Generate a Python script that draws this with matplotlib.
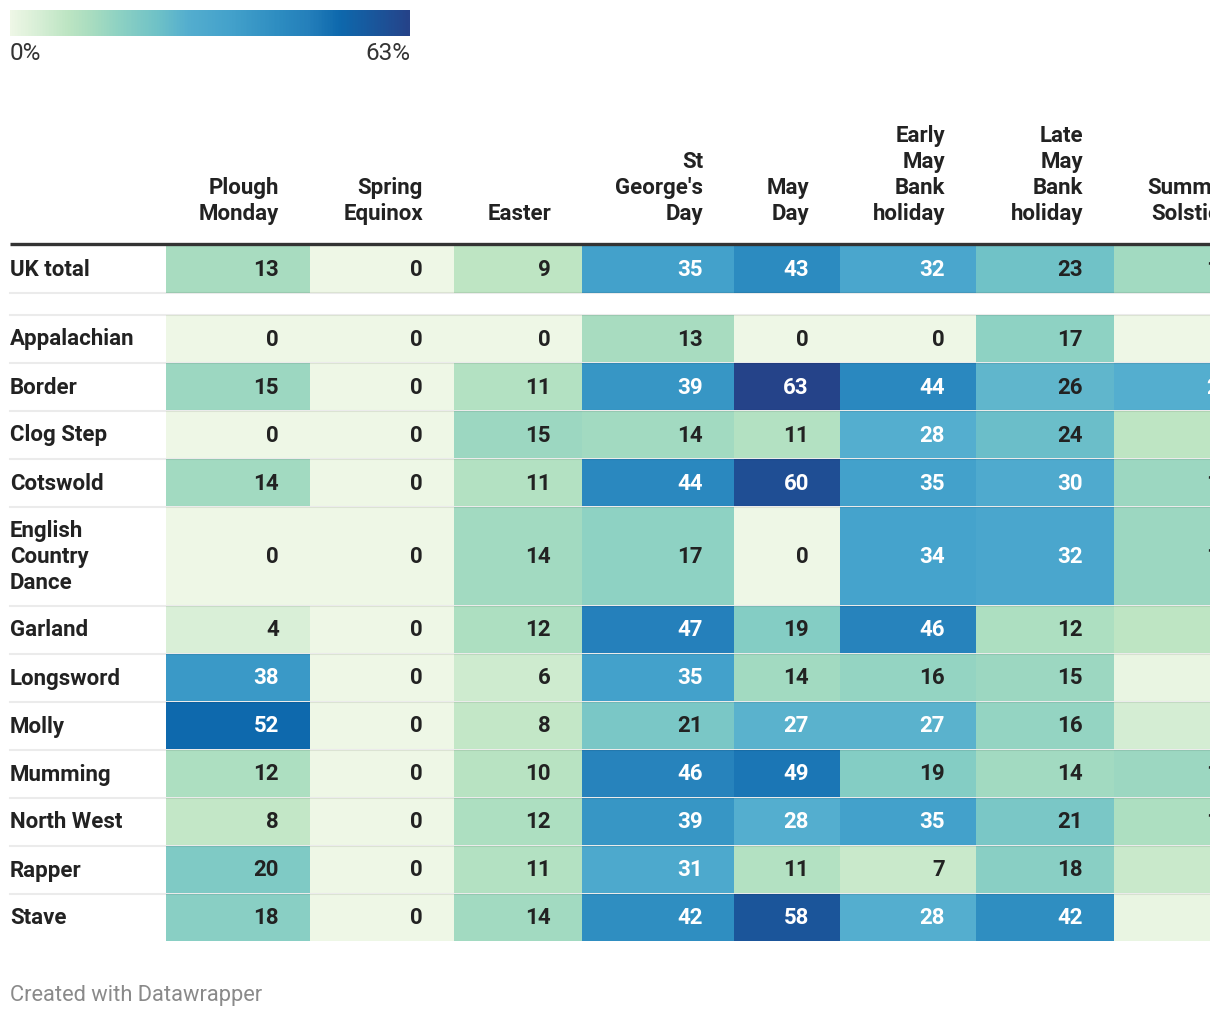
import matplotlib.pyplot as plt
import numpy as np
from matplotlib.colors import LinearSegmentedColormap
from matplotlib.patches import Rectangle

plt.rcParams['font.family'] = ['Roboto', 'DejaVu Sans']

# Data
columns = ["Plough\nMonday", "Spring\nEquinox", "Easter", "St\nGeorge's\nDay", "May\nDay",
           "Early\nMay\nBank\nholiday", "Late\nMay\nBank\nholiday", "Summer\nSolstice"]
total_label = "UK total"
total_values = [13, 0, 9, 35, 43, 32, 23, 14]
rows = ["Appalachian", "Border", "Clog Step", "Cotswold", "English\nCountry\nDance", "Garland",
        "Longsword", "Molly", "Mumming", "North West", "Rapper", "Stave"]
values = [
    [0, 0, 0, 13, 0, 0, 17, 0],
    [15, 0, 11, 39, 63, 44, 26, 28],
    [0, 0, 15, 14, 11, 28, 24, 9],
    [14, 0, 11, 44, 60, 35, 30, 15],
    [0, 0, 14, 17, 0, 34, 32, 15],
    [4, 0, 12, 47, 19, 46, 12, 9],
    [38, 0, 6, 35, 14, 16, 15, 1],
    [52, 0, 8, 21, 27, 27, 16, 5],
    [12, 0, 10, 46, 49, 19, 14, 15],
    [8, 0, 12, 39, 28, 35, 21, 12],
    [20, 0, 11, 31, 11, 7, 18, 7],
    [18, 0, 14, 42, 58, 28, 42, 1],
]
vmax = 63

# colour scale (value, colour)
nodes = [(0, "#eef7e6"), (4, "#d9efd7"), (9, "#bde5c3"), (13, "#a7dcc0"), (17, "#8ed2c3"),
         (23, "#70c2c7"), (28, "#54aecf"), (35, "#43a1cb"), (43, "#2c8bc0"), (47, "#2580bb"),
         (52, "#0e69ad"), (60, "#1f4e94"), (63, "#254389")]
cmap = LinearSegmentedColormap.from_list("dw", [(v / vmax, c) for v, c in nodes])

# layout in pixels
col_edges = [166, 310, 454, 582, 734, 840, 976, 1114, 1263]
pad = 31
dark = "#222222"
fs = 16

fig = plt.figure(figsize=(12.2, 10.18), dpi=100)
ax = fig.add_axes([0, 0, 1, 1])
ax.set_xlim(0, 1220)
ax.set_ylim(1018, 0)
ax.axis("off")

# legend
grad = np.linspace(0, 1, 400).reshape(1, -1)
ax.imshow(grad, cmap=cmap, extent=[10, 410, 36, 10], aspect="auto")
ax.text(10, 53, "0%", fontsize=17.5, color="#333333", va="center", ha="left")
ax.text(410, 53, "63%", fontsize=17.5, color="#333333", va="center", ha="right")

# headers
for j, col in enumerate(columns):
    lines = col.split("\n")
    xr = col_edges[j + 1] - pad
    for i, ln in enumerate(lines):
        y = 214 - 26 * (len(lines) - 1 - i)
        ax.text(xr, y, ln, fontsize=fs, fontweight="bold", color=dark, ha="right", va="center")

ax.plot([10, 1210], [243.5, 243.5], color="#333333", lw=2.4, solid_capstyle="butt")


def draw_row(label, vals, top, bottom):
    yc = (top + bottom) / 2
    lines = label.split("\n")
    for i, ln in enumerate(lines):
        y = yc - 13 * (len(lines) - 1) + 26 * i + 1
        ax.text(10, y, ln, fontsize=fs, fontweight="bold", color=dark, ha="left", va="center")
    for j, v in enumerate(vals):
        x0, x1 = col_edges[j], col_edges[j + 1]
        ax.add_patch(Rectangle((x0, top), x1 - x0, bottom - top, facecolor=cmap(v / vmax),
                               edgecolor="none"))
        ax.text(x1 - pad, yc + 1, str(v), fontsize=fs, fontweight="bold",
                color="white" if v >= 27 else dark, ha="right", va="center")


draw_row(total_label, total_values, 245, 293)
ax.plot([10, 1210], [293, 293], color="black", alpha=0.08, lw=1.5)
ax.plot([10, 1210], [314.5, 314.5], color="black", alpha=0.08, lw=1.5)

top = 315
for r, vals in zip(rows, values):
    h = 98 if "\n" in r else 47
    draw_row(r, vals, top, top + h)
    if r != rows[-1]:
        ax.plot([10, 1210], [top + h + 0.5, top + h + 0.5], color="black", alpha=0.08, lw=1.5)
    top += h + 1

# right edge crop, as in the original export
ax.add_patch(Rectangle((1210, 0), 20, 1018, facecolor="white", edgecolor="none", zorder=10))

ax.text(10, 995, "Created with Datawrapper", fontsize=15.75, color="#8a8a8a", ha="left", va="center")

fig.savefig("out.png", dpi=100, facecolor="white")
